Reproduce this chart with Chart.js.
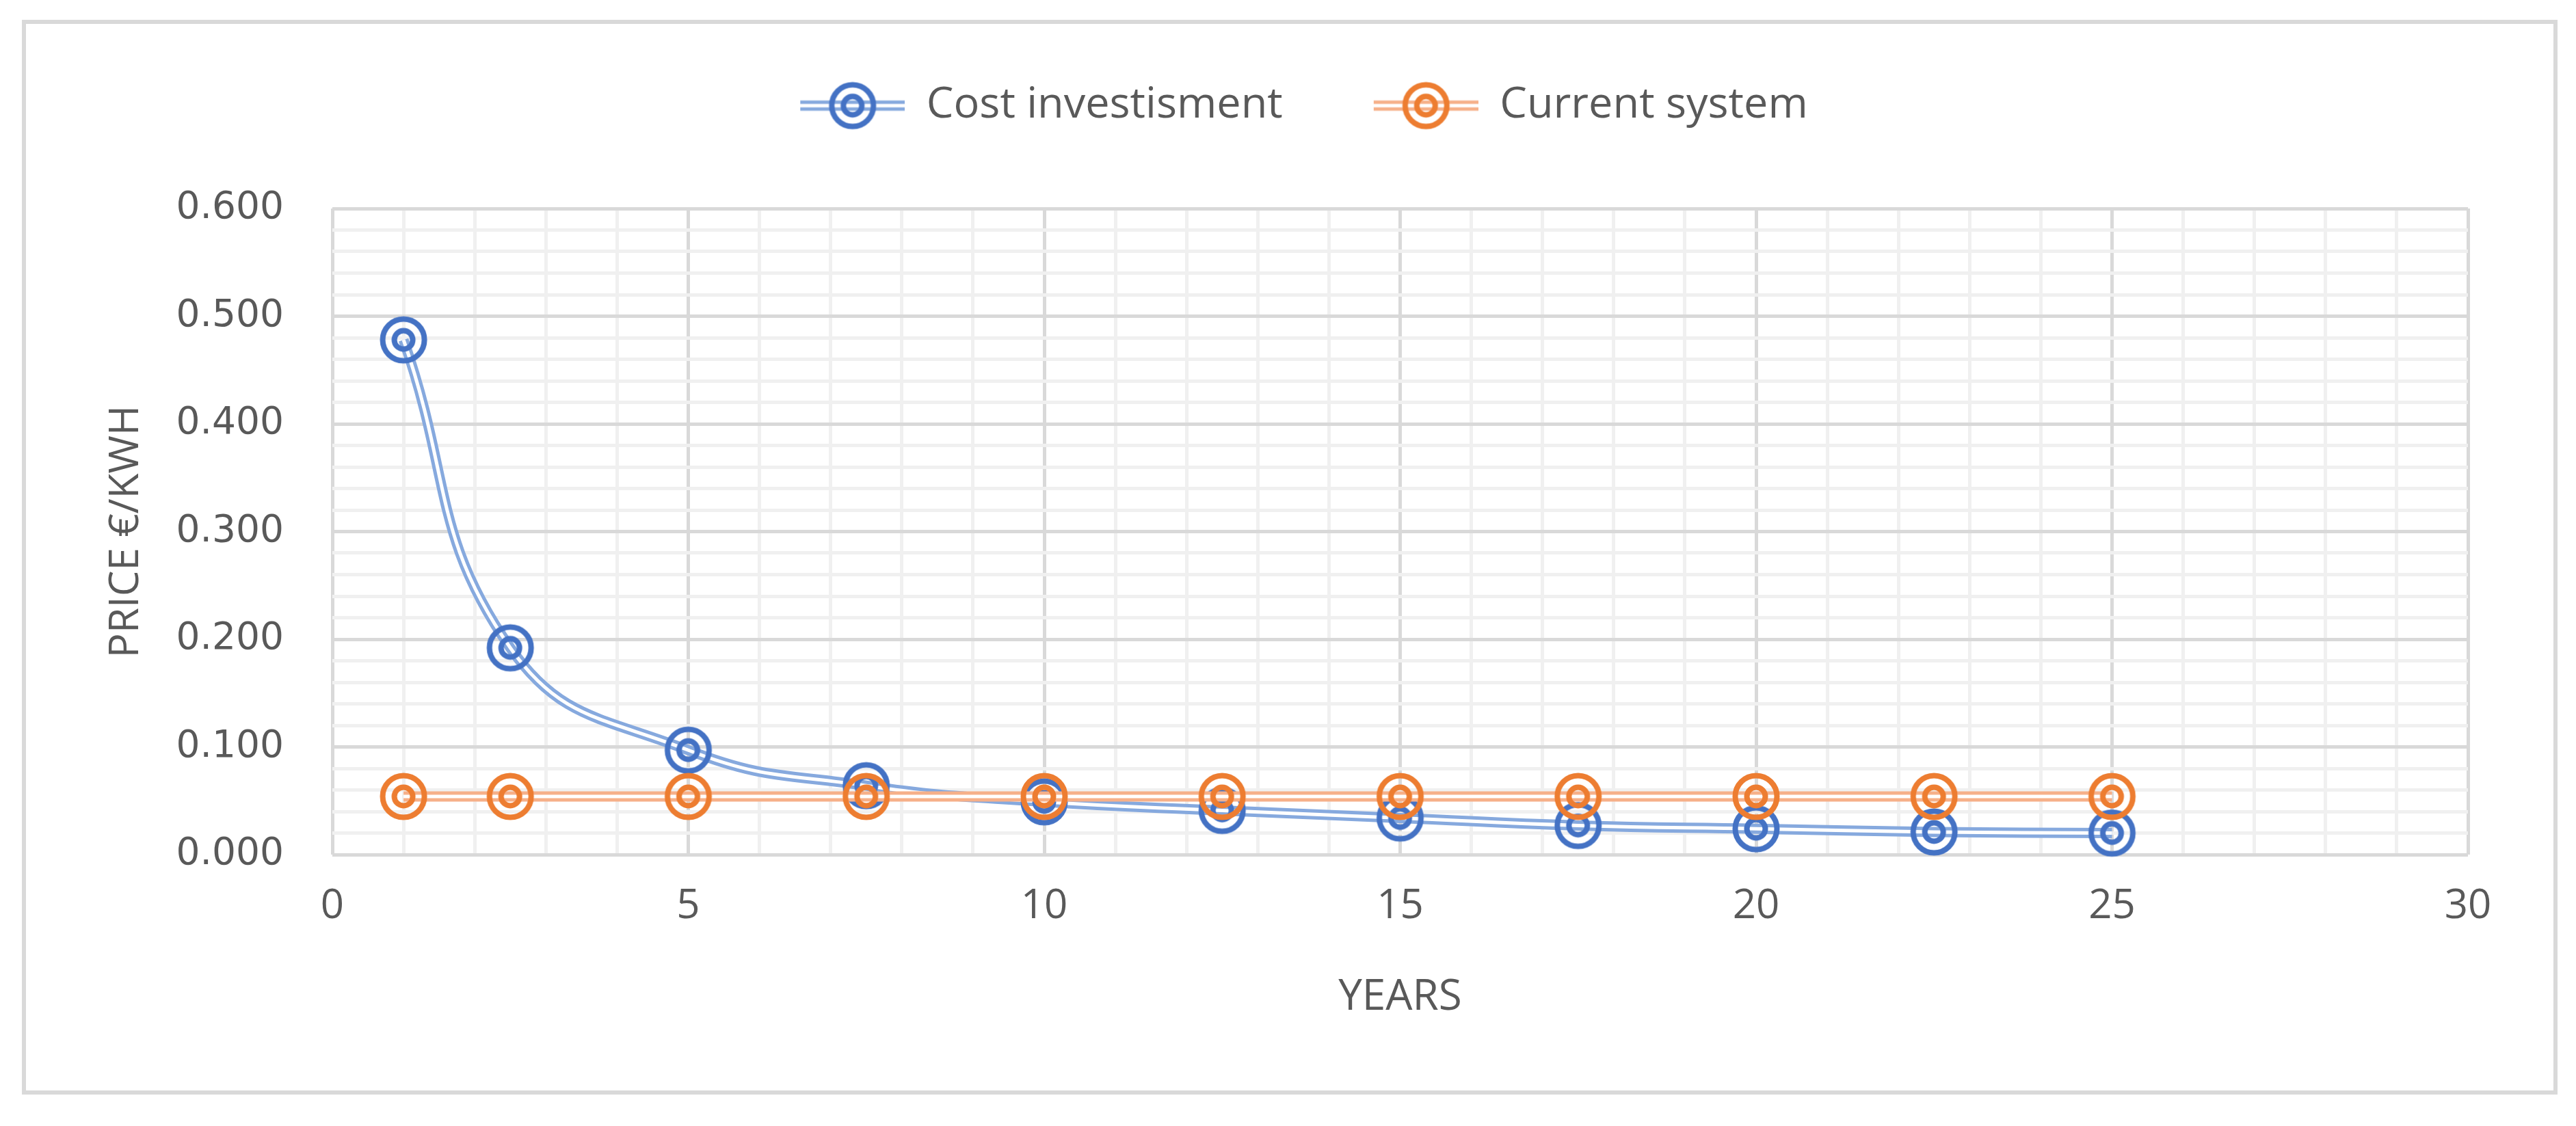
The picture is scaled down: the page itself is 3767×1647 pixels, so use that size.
<!DOCTYPE html>
<html>
<head>
<meta charset="utf-8">
<script src="https://cdn.jsdelivr.net/npm/chart.js@4.4.1/dist/chart.umd.min.js"></script>
<style>
  html, body { margin: 0; padding: 0; background: #fff; }
  #wrap { width: 3767px; height: 1647px; }
</style>
</head>
<body>
<div id="wrap"><canvas id="myChart" width="3767" height="1647"></canvas></div>
<script>
// Data
const years = [1, 2.5, 5, 7.5, 10, 12.5, 15, 17.5, 20, 22.5, 25];
const costInvestisment = [0.478, 0.192, 0.097, 0.064, 0.049, 0.041, 0.034, 0.027, 0.024, 0.021, 0.020];
const currentSystem = [0.054, 0.054, 0.054, 0.054, 0.054, 0.054, 0.054, 0.054, 0.054, 0.054, 0.054];
const seriesNames = ['Cost investisment', 'Current system'];

const xTicks = [0, 5, 10, 15, 20, 25, 30];
const yTicks = [0, 0.1, 0.2, 0.3, 0.4, 0.5, 0.6];

// Colours
const blueMarker = '#4472C4';
const blueLine = '#86A9DE';
const orangeMarker = '#ED7D31';
const orangeLine = '#F6B089';
const textColor = '#595959';

// "target" marker: outer ring + inner ring
function makeMarker(color) {
  const c = document.createElement('canvas');
  c.width = 80; c.height = 80;
  const g = c.getContext('2d');
  g.strokeStyle = color;
  g.lineWidth = 8;
  g.beginPath(); g.arc(40, 40, 30.5, 0, Math.PI * 2); g.stroke();
  g.beginPath(); g.arc(40, 40, 13.5, 0, Math.PI * 2); g.stroke();
  return c;
}

// legend symbol: double line with the marker in the middle
const legendLeftGap = 56;
function makeLegendSymbol(lineColor, markerColor) {
  const w = 153 + legendLeftGap, h = 80;
  const c = document.createElement('canvas');
  c.width = w; c.height = h;
  const g = c.getContext('2d');
  g.strokeStyle = lineColor;
  g.lineWidth = 15;
  g.beginPath(); g.moveTo(legendLeftGap, h / 2); g.lineTo(w, h / 2); g.stroke();
  g.strokeStyle = '#fff';
  g.lineWidth = 5;
  g.beginPath(); g.moveTo(legendLeftGap, h / 2); g.lineTo(w, h / 2); g.stroke();
  g.drawImage(makeMarker(markerColor), legendLeftGap + 153 / 2 - 40, 0);
  return c;
}

const blueDot = makeMarker(blueMarker);
const orangeDot = makeMarker(orangeMarker);
const legendSymbols = [makeLegendSymbol(blueLine, blueMarker), makeLegendSymbol(orangeLine, orangeMarker)];

const toXY = (vals) => years.map((x, i) => ({ x: x, y: vals[i] }));

// each series = wide coloured line + thin white line on top (Excel double line) + markers
function seriesPair(vals, lineColor, dot, order) {
  return [
    {
      label: 'line', data: toXY(vals), borderColor: lineColor, borderWidth: 15,
      pointRadius: 0, pointHoverRadius: 0, tension: 0.45, fill: false, order: order + 1, clip: false
    },
    {
      label: 'inner', data: toXY(vals), borderColor: '#ffffff', borderWidth: 5,
      pointStyle: dot, pointRadius: 30, pointHoverRadius: 30, tension: 0.45, fill: false, order: order, clip: false
    }
  ];
}

const datasets = [
  ...seriesPair(costInvestisment, blueLine, blueDot, 2),
  ...seriesPair(currentSystem, orangeLine, orangeDot, 0)
];

const isMajorY = (v) => yTicks.some((t) => Math.abs(t - v) < 1e-6);

const chartOptions = {
  responsive: false,
  animation: false,
  layout: { padding: { left: 149, right: 158, top: 46, bottom: 150 } },
  plugins: {
    tooltip: { enabled: false },
    legend: {
      position: 'top',
      labels: {
        usePointStyle: true,
        pointStyleWidth: 153 + legendLeftGap,
        padding: 77,
        color: textColor,
        font: { family: 'Open Sans', size: 63 },
        generateLabels: () => seriesNames.map((name, i) => ({
          text: name,
          pointStyle: legendSymbols[i],
          fillStyle: 'transparent',
          strokeStyle: 'transparent',
          lineWidth: 0,
          fontColor: textColor,
          hidden: false,
          datasetIndex: i * 2 + 1
        }))
      },
      onClick: () => {}
    }
  },
  scales: {
    x: {
      type: 'linear',
      min: 0, max: 30,
      ticks: {
        stepSize: 1,
        autoSkip: false,
        maxRotation: 0,
        padding: 40,
        color: textColor,
        font: { family: 'Open Sans', size: 60 },
        callback: (v) => (xTicks.includes(v) ? String(v) : '')
      },
      grid: {
        drawTicks: false,
        lineWidth: 5,
        color: (ctx) => (ctx.tick && xTicks.includes(ctx.tick.value) ? '#d9d9d9' : '#f0f0f0')
      },
      border: { display: false },
      title: {
        display: true,
        text: 'YEARS',
        color: textColor,
        padding: 0,
        font: { family: 'Open Sans', size: 62 }
      },
      afterFit: (scale) => { scale.height = 247; }
    },
    y: {
      type: 'linear',
      min: 0, max: 0.6,
      ticks: {
        stepSize: 0.02,
        autoSkip: false,
        padding: 71,
        color: textColor,
        font: { family: 'DejaVu Sans', size: 55 },
        callback: (v) => (isMajorY(v) ? v.toFixed(3) : '')
      },
      grid: {
        drawTicks: false,
        lineWidth: 5,
        color: (ctx) => (ctx.tick && isMajorY(ctx.tick.value) ? '#d9d9d9' : '#f0f0f0')
      },
      border: { display: false },
      title: {
        display: true,
        text: 'PRICE €/KWH',
        color: textColor,
        padding: 0,
        font: { family: 'Open Sans', size: 60 }
      },
      afterFit: (scale) => { scale.width = 337; }
    }
  }
};

// push the plot area down below the legend, and draw the outer frame
const framePlugin = {
  id: 'frame',
  beforeInit(chart) {
    const legend = chart.legend;
    const fit = legend.fit;
    legend.fit = function () {
      fit.call(this);
      this.height = 305 - 46;
    };
  },
  beforeDraw(chart) {
    const ctx = chart.ctx;
    ctx.save();
    ctx.fillStyle = '#fff';
    ctx.fillRect(0, 0, chart.width, chart.height);
    ctx.strokeStyle = '#d9d9d9';
    ctx.lineWidth = 6;
    ctx.strokeRect(35, 32, 3702, 1566);
    ctx.restore();
  }
};

const chartConfig = {
  type: 'line',
  data: { datasets: datasets },
  options: chartOptions,
  plugins: [framePlugin]
};

const myChart = new Chart(document.getElementById('myChart'), chartConfig);
</script>
</body>
</html>
